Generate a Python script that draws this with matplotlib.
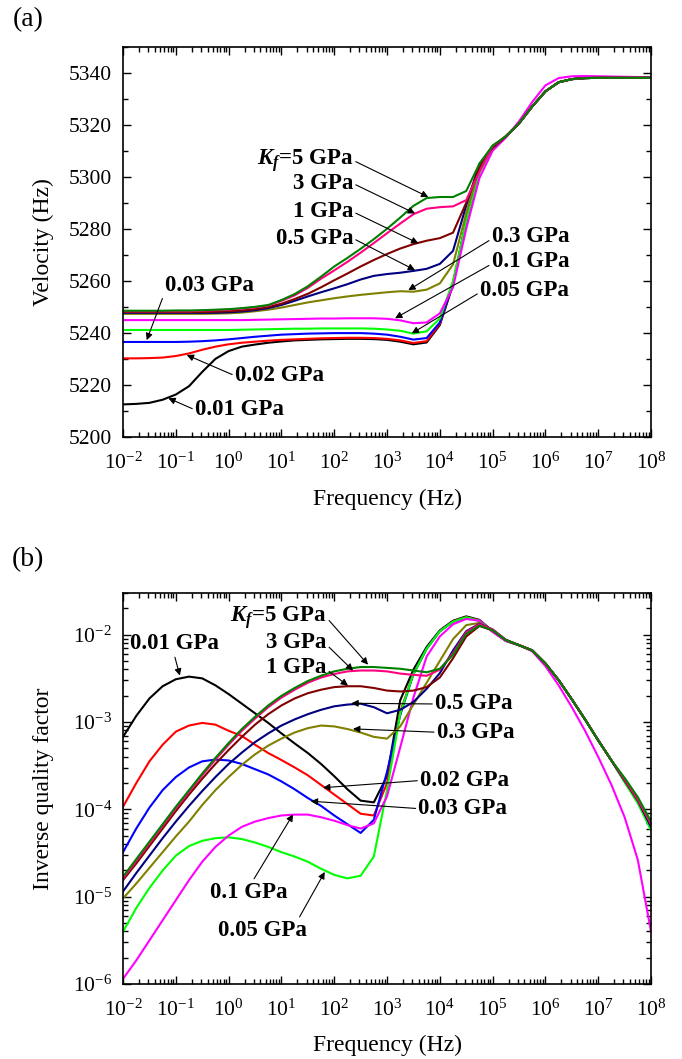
import numpy as np
import matplotlib
matplotlib.use('Agg')
import matplotlib.pyplot as plt
from matplotlib.ticker import MultipleLocator, LogLocator, NullFormatter

plt.rcParams['font.family'] = 'Liberation Serif'
plt.rcParams['mathtext.fontset'] = 'custom'
plt.rcParams['mathtext.rm'] = 'Liberation Serif'
plt.rcParams['mathtext.it'] = 'Liberation Serif:italic:bold'
plt.rcParams['mathtext.bf'] = 'Liberation Serif:bold'
plt.rcParams['axes.unicode_minus'] = False

# sample frequencies (Hz), quarter-decade steps from 1e-2 to 1e8
freq = np.logspace(-2, 8, 41)

kf_names = ['0.01', '0.02', '0.03', '0.05', '0.1', '0.3', '0.5', '1', '3', '5']
colors = ['#000000', '#ff0000', '#0000ff', '#00ff00', '#ff00ff',
          '#808000', '#000080', '#800000', '#ff0080', '#008000']

# (a) velocity
vel_001 = [5212.5, 5212.7, 5213.1, 5214.3, 5216.3, 5219.5, 5225.0, 5230.0, 5233.0, 5234.7,
           5235.5, 5236.2, 5236.7, 5237.1, 5237.3, 5237.5, 5237.6, 5237.7, 5237.7, 5237.6,
           5237.3, 5236.6, 5235.6, 5236.3, 5243.0, 5258.5, 5283.0, 5302.0, 5311.0, 5315.5,
           5320.5, 5327.0, 5332.8, 5336.3, 5337.5, 5337.9, 5338.0, 5338.0, 5338.0, 5338.0, 5338.0]
vel_002 = [5230.2, 5230.2, 5230.3, 5230.5, 5231.1, 5232.1, 5233.5, 5234.7, 5235.6, 5236.2,
           5236.6, 5237.0, 5237.3, 5237.5, 5237.7, 5237.9, 5238.0, 5238.1, 5238.1, 5238.0,
           5237.7, 5237.1, 5236.1, 5236.8, 5243.5, 5259.0, 5283.0, 5302.0, 5311.0, 5315.5,
           5320.5, 5327.0, 5332.8, 5336.3, 5337.5, 5337.9, 5338.0, 5338.0, 5338.0, 5338.0, 5338.0]
vel_003 = [5236.5, 5236.5, 5236.5, 5236.5, 5236.5, 5236.6, 5236.8, 5237.1, 5237.5, 5238.0,
           5238.5, 5238.9, 5239.3, 5239.5, 5239.7, 5239.8, 5239.9, 5239.9, 5239.9, 5239.7,
           5239.3, 5238.5, 5237.4, 5238.0, 5244.0, 5259.0, 5283.0, 5302.0, 5311.0, 5315.5,
           5320.5, 5327.0, 5332.8, 5336.3, 5337.5, 5337.9, 5338.0, 5338.0, 5338.0, 5338.0, 5338.0]
vel_005 = [5241.1, 5241.1, 5241.1, 5241.1, 5241.1, 5241.1, 5241.1, 5241.1, 5241.1, 5241.2,
           5241.3, 5241.4, 5241.5, 5241.6, 5241.6, 5241.7, 5241.7, 5241.7, 5241.7, 5241.6,
           5241.3, 5240.8, 5239.7, 5240.6, 5245.5, 5260.0, 5283.0, 5301.5, 5310.8, 5315.5,
           5320.5, 5327.0, 5332.8, 5336.3, 5337.5, 5337.9, 5338.0, 5338.0, 5338.0, 5338.0, 5338.0]
vel_01 = [5244.9, 5244.9, 5244.9, 5244.9, 5244.9, 5244.9, 5244.9, 5244.9, 5244.9, 5244.9,
          5245.0, 5245.1, 5245.2, 5245.3, 5245.4, 5245.5, 5245.5, 5245.6, 5245.6, 5245.6,
          5245.4, 5244.8, 5243.7, 5244.0, 5247.5, 5257.5, 5280.0, 5299.5, 5310.0, 5315.0,
          5321.3, 5328.7, 5335.1, 5337.9, 5338.6, 5338.7, 5338.6, 5338.5, 5338.4, 5338.3, 5338.2]
vel_03 = [5247.3, 5247.3, 5247.3, 5247.3, 5247.3, 5247.3, 5247.3, 5247.4, 5247.5, 5247.8,
          5248.3, 5248.9, 5249.7, 5250.7, 5251.7, 5252.5, 5253.3, 5254.0, 5254.6, 5255.1,
          5255.6, 5256.0, 5255.8, 5256.6, 5259.0, 5266.3, 5286.0, 5304.0, 5311.0, 5315.5,
          5320.5, 5327.0, 5332.8, 5336.3, 5337.5, 5337.9, 5338.0, 5338.0, 5338.0, 5338.0, 5338.0]
vel_05 = [5247.7, 5247.7, 5247.7, 5247.7, 5247.7, 5247.7, 5247.7, 5247.7, 5247.9, 5248.2,
          5248.7, 5249.5, 5250.7, 5252.3, 5254.0, 5255.6, 5257.1, 5258.7, 5260.5, 5261.9,
          5262.6, 5263.1, 5263.8, 5264.6, 5266.5, 5271.5, 5289.0, 5305.0, 5311.2, 5315.5,
          5320.5, 5327.0, 5332.8, 5336.3, 5337.5, 5337.9, 5338.0, 5338.0, 5338.0, 5338.0, 5338.0]
vel_1 = [5248.0, 5248.0, 5248.0, 5248.0, 5248.0, 5248.0, 5248.0, 5248.1, 5248.3, 5248.6,
         5249.1, 5249.9, 5251.2, 5253.0, 5255.0, 5257.5, 5260.2, 5262.8, 5265.5, 5268.0,
         5270.3, 5272.4, 5274.1, 5275.4, 5276.4, 5278.5, 5290.0, 5303.5, 5311.3, 5315.5,
         5320.5, 5327.0, 5332.8, 5336.3, 5337.5, 5337.9, 5338.0, 5338.0, 5338.0, 5338.0, 5338.0]
vel_3 = [5248.3, 5248.3, 5248.3, 5248.3, 5248.3, 5248.3, 5248.5, 5248.7, 5248.9, 5249.3,
         5249.8, 5250.5, 5252.3, 5254.4, 5257.3, 5260.8, 5264.0, 5267.3, 5270.8, 5274.5,
         5278.3, 5282.0, 5285.6, 5287.7, 5288.3, 5288.6, 5291.0, 5302.0, 5311.8, 5315.5,
         5320.5, 5327.0, 5332.8, 5336.3, 5337.5, 5337.9, 5338.0, 5338.0, 5338.0, 5338.0, 5338.0]
vel_5 = [5248.5, 5248.5, 5248.5, 5248.5, 5248.6, 5248.6, 5248.7, 5248.9, 5249.1, 5249.5,
         5250.0, 5250.7, 5252.6, 5254.9, 5257.9, 5261.6, 5265.5, 5268.8, 5272.3, 5276.0,
         5280.0, 5284.3, 5288.8, 5291.8, 5292.2, 5292.2, 5294.5, 5305.0, 5312.0, 5315.5,
         5320.5, 5327.0, 5332.8, 5336.3, 5337.5, 5337.9, 5338.0, 5338.0, 5338.0, 5338.0, 5338.0]

# (b) inverse quality factor, stored as the decade exponent
qexp_001 = [-3.17, -2.93, -2.73, -2.59, -2.51, -2.48, -2.50, -2.58, -2.68, -2.79,
            -2.90, -3.01, -3.13, -3.245, -3.355, -3.48, -3.62, -3.77, -3.90, -3.92,
            -3.62, -2.75, -2.40, -2.14, -1.95, -1.84, -1.79, -1.83, -1.96, -2.07,
            -2.12, -2.18, -2.33, -2.52, -2.74, -2.97, -3.21, -3.44, -3.67, -3.90, -4.19]
qexp_002 = [-3.97, -3.70, -3.45, -3.26, -3.11, -3.04, -3.01, -3.03, -3.10, -3.16,
            -3.26, -3.355, -3.435, -3.52, -3.61, -3.72, -3.83, -3.94, -4.05, -4.07,
            -3.70, -2.88, -2.45, -2.16, -1.96, -1.845, -1.80, -1.835, -1.96, -2.07,
            -2.12, -2.18, -2.33, -2.52, -2.74, -2.97, -3.21, -3.44, -3.68, -3.91, -4.21]
qexp_003 = [-4.49, -4.22, -3.98, -3.78, -3.63, -3.52, -3.45, -3.43, -3.44, -3.48,
            -3.54, -3.60, -3.68, -3.77, -3.87, -3.96, -4.07, -4.17, -4.27, -4.12,
            -3.57, -2.92, -2.45, -2.16, -1.96, -1.85, -1.805, -1.84, -1.96, -2.07,
            -2.12, -2.18, -2.33, -2.52, -2.74, -2.97, -3.21, -3.44, -3.68, -3.92, -4.22]
qexp_005 = [-5.40, -5.13, -4.90, -4.70, -4.53, -4.42, -4.36, -4.33, -4.32, -4.34,
            -4.38, -4.43, -4.49, -4.54, -4.60, -4.68, -4.75, -4.79, -4.76, -4.54,
            -3.78, -2.90, -2.45, -2.16, -1.96, -1.85, -1.80, -1.84, -1.96, -2.07,
            -2.12, -2.18, -2.33, -2.52, -2.74, -2.97, -3.21, -3.44, -3.69, -3.93, -4.24]
qexp_01 = [-5.94, -5.73, -5.50, -5.27, -5.04, -4.81, -4.60, -4.43, -4.30, -4.20,
           -4.14, -4.10, -4.07, -4.06, -4.06, -4.09, -4.13, -4.18, -4.22, -4.16,
           -3.85, -3.29, -2.72, -2.25, -2.02, -1.88, -1.82, -1.84, -1.97, -2.07,
           -2.12, -2.19, -2.36, -2.58, -2.83, -3.10, -3.40, -3.72, -4.09, -4.58, -5.40]
qexp_03 = [-5.02, -4.85, -4.67, -4.49, -4.31, -4.14, -3.95, -3.78, -3.63, -3.49,
           -3.37, -3.27, -3.19, -3.12, -3.07, -3.04, -3.05, -3.08, -3.12, -3.17,
           -3.19, -3.05, -2.80, -2.55, -2.30, -2.05, -1.89, -1.865, -1.95, -2.06,
           -2.12, -2.18, -2.33, -2.52, -2.74, -2.97, -3.21, -3.44, -3.67, -3.90, -4.19]
qexp_05 = [-4.94, -4.73, -4.53, -4.33, -4.14, -3.96, -3.79, -3.63, -3.48, -3.35,
           -3.23, -3.13, -3.04, -2.97, -2.91, -2.86, -2.82, -2.80, -2.79, -2.83,
           -2.90, -2.86, -2.77, -2.62, -2.44, -2.18, -1.96, -1.875, -1.94, -2.06,
           -2.12, -2.18, -2.33, -2.52, -2.74, -2.97, -3.21, -3.44, -3.67, -3.90, -4.20]
qexp_1 = [-4.81, -4.62, -4.42, -4.22, -4.02, -3.83, -3.65, -3.48, -3.32, -3.17,
          -3.03, -2.91, -2.81, -2.73, -2.67, -2.63, -2.60, -2.59, -2.59, -2.61,
          -2.64, -2.65, -2.64, -2.60, -2.49, -2.27, -2.02, -1.90, -1.95, -2.06,
          -2.12, -2.18, -2.33, -2.52, -2.74, -2.97, -3.21, -3.44, -3.66, -3.89, -4.17]
qexp_3 = [-4.79, -4.59, -4.39, -4.19, -3.99, -3.80, -3.61, -3.43, -3.26, -3.10,
          -2.96, -2.83, -2.72, -2.63, -2.55, -2.49, -2.45, -2.42, -2.41, -2.41,
          -2.42, -2.445, -2.46, -2.47, -2.40, -2.21, -1.97, -1.88, -1.94, -2.06,
          -2.12, -2.18, -2.33, -2.52, -2.74, -2.97, -3.21, -3.44, -3.66, -3.89, -4.17]
qexp_5 = [-4.77, -4.57, -4.37, -4.17, -3.97, -3.78, -3.59, -3.41, -3.24, -3.08,
          -2.94, -2.81, -2.70, -2.61, -2.53, -2.47, -2.42, -2.39, -2.37, -2.37,
          -2.38, -2.39, -2.41, -2.43, -2.39, -2.23, -1.99, -1.895, -1.95, -2.06,
          -2.12, -2.18, -2.33, -2.52, -2.74, -2.97, -3.21, -3.44, -3.64, -3.86, -4.14]

vel_series = [vel_001, vel_002, vel_003, vel_005, vel_01, vel_03, vel_05, vel_1, vel_3, vel_5]
qexp_series = [qexp_001, qexp_002, qexp_003, qexp_005, qexp_01, qexp_03, qexp_05, qexp_1, qexp_3, qexp_5]


def style_axes(ax):
    ax.set_xscale('log')
    ax.set_xlim(1e-2, 1e8)
    ax.xaxis.set_major_locator(LogLocator(base=10, numticks=15))
    ax.xaxis.set_minor_locator(LogLocator(base=10, subs=np.arange(2, 10), numticks=200))
    ax.xaxis.set_minor_formatter(NullFormatter())
    ax.tick_params(which='both', direction='in', top=True, right=True, width=1.0)
    ax.tick_params(which='major', length=6, labelsize=15.5)
    ax.tick_params(which='minor', length=3.5)
    ax.tick_params(axis='y', pad=8)
    ax.tick_params(axis='x', pad=11)
    for sp in ax.spines.values():
        sp.set_linewidth(1.2)
    ax.set_xlabel('Frequency (Hz)', fontsize=17)


def note(ax, text, tip, at, ha='left', rel=(0.5, 0.5)):
    ax.annotate(text, xy=tip, xytext=at, ha=ha, va='center',
                fontsize=16.5, fontweight='bold',
                arrowprops=dict(arrowstyle='-|>', color='k', lw=0.8,
                                mutation_scale=10, shrinkA=0, shrinkB=0,
                                relpos=rel))


fig = plt.figure(figsize=(6.82, 10.59), dpi=100)
ax1 = fig.add_axes([0.1804, 0.5874, 0.7742, 0.3686])
ax2 = fig.add_axes([0.1804, 0.0708, 0.7742, 0.3692])

# (a) velocity
for v, c in zip(vel_series, colors):
    ax1.plot(freq, v, color=c, lw=1.5, solid_joinstyle='round')
style_axes(ax1)
ax1.set_ylim(5200, 5350)
ax1.yaxis.set_major_locator(MultipleLocator(20))
ax1.yaxis.set_minor_locator(MultipleLocator(10))
ax1.set_ylabel('Velocity (Hz)', fontsize=17)
ax1.xaxis.set_label_coords(0.5, -0.133)
ax1.yaxis.set_label_coords(-0.131, 0.5)

note(ax1, r'$K_f$=5 GPa', (6.05e3, 5292.2), (227, 5306.3), 'right', (1, 0.5))
note(ax1, '3 GPa', (3.39e3, 5285.9), (227, 5297.4), 'right', (1, 0.5))
note(ax1, '1 GPa', (3.92e3, 5274.4), (227, 5286.5), 'right', (1, 0.5))
note(ax1, '0.5 GPa', (3.39e3, 5264.1), (227, 5276.3), 'right', (1, 0.5))
note(ax1, '0.03 GPa', (0.0281, 5237.2), (0.0624, 5258.3), 'left', (0, 0.2))
note(ax1, '0.02 GPa', (0.161, 5231.5), (1.32, 5223.5), 'left', (0, 0.5))
note(ax1, '0.01 GPa', (0.0721, 5214.9), (0.231, 5210.4), 'left', (0, 0.5))
note(ax1, '0.3 GPa', (2.53e3, 5256.4), (9.62e4, 5276.9), 'left', (0, 0.4))
note(ax1, '0.1 GPa', (1.42e3, 5245.6), (9.62e4, 5267.3), 'left', (0, 0.4))
note(ax1, '0.05 GPa', (2.94e3, 5239.8), (5.77e4, 5256.4), 'left', (0, 0.4))

# (b) inverse quality factor
for q, c in zip(qexp_series, colors):
    ax2.plot(freq, 10.0 ** np.array(q), color=c, lw=1.5, solid_joinstyle='round')
style_axes(ax2)
ax2.set_yscale('log')
ax2.set_ylim(1e-6, 3e-2)
ax2.yaxis.set_major_locator(LogLocator(base=10, numticks=15))
ax2.yaxis.set_minor_locator(LogLocator(base=10, subs=np.arange(2, 10), numticks=200))
ax2.yaxis.set_minor_formatter(NullFormatter())
ax2.set_ylabel('Inverse quality factor', fontsize=17)
ax2.xaxis.set_label_coords(0.5, -0.131)
ax2.yaxis.set_label_coords(-0.131, 0.5)

note(ax2, r'$K_f$=5 GPa', (437, 4.54e-3), (70.8, 1.58e-2), 'right', (1, 0.5))
note(ax2, '3 GPa', (227, 3.88e-3), (70.8, 8.17e-3), 'right', (1, 0.4))
note(ax2, '1 GPa', (182, 2.61e-3), (70.8, 4.23e-3), 'right', (1, 0.4))
note(ax2, '0.01 GPa', (0.119, 3.40e-3), (0.0134, 7.83e-3), 'left', (0.5, 0))
note(ax2, '0.5 GPa', (211, 1.64e-3), (8.11e3, 1.61e-3), 'left', (0, 0.5))
note(ax2, '0.3 GPa', (227, 8.35e-4), (8.73e3, 7.64e-4), 'left', (0, 0.5))
note(ax2, '0.02 GPa', (61.4, 1.77e-4), (4.22e3, 2.14e-4), 'left', (0, 0.5))
note(ax2, '0.03 GPa', (35.9, 1.24e-4), (3.92e3, 1.02e-4), 'left', (0, 0.5))
note(ax2, '0.1 GPa', (16.6, 8.77e-5), (0.439, 1.13e-5), 'left', (0.55, 1))
note(ax2, '0.05 GPa', (66.1, 1.92e-5), (0.63, 4.14e-6), 'left', (0.9, 1))

fig.text(13 / 682, 1 - 20 / 1059, '(a)', fontsize=20, ha='left', va='center')
fig.text(12 / 682, 1 - 560 / 1059, '(b)', fontsize=20, ha='left', va='center')

fig.savefig('out.png', dpi=100)
